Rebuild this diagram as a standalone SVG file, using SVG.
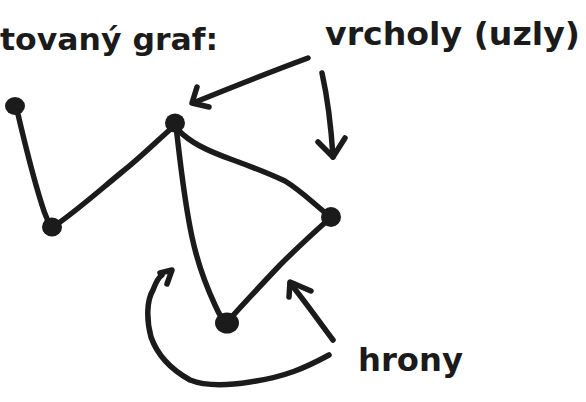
<svg xmlns="http://www.w3.org/2000/svg" width="586" height="402" viewBox="0 0 586 402">
  <style>
    .ink { fill: none; stroke: #1b1b1b; stroke-width: 5.5; stroke-linecap: round; stroke-linejoin: round; }
    .dot { fill: #1b1b1b; }
    .hand { font-family: "DejaVu Sans", "Liberation Sans", sans-serif; fill: #1b1b1b; font-weight: bold; }
  </style>
  <rect width="586" height="402" fill="#ffffff"/>

  <!-- labels -->
  <g id="title">
    <text class="hand" x="0" y="50" font-size="30" textLength="218" lengthAdjust="spacingAndGlyphs">tovaný graf:</text>
  </g>
  <g id="label-vrcholy">
    <text class="hand" x="325" y="45" font-size="32" textLength="255" lengthAdjust="spacingAndGlyphs">vrcholy (uzly)</text>
  </g>
  <g id="label-hrany">
    <text class="hand" x="358" y="371" font-size="32" textLength="105" lengthAdjust="spacingAndGlyphs">hrony</text>
  </g>

  <!-- edges of the graph -->
  <g id="edges">
    <path class="ink" d="M17,110 C24,140 34,180 42,205 C45,215 48,222 52,227"/>
    <path class="ink" d="M56,225 C80,208 100,190 122,172 C140,158 158,140 174,126"/>
    <path class="ink" d="M176,126 C180,160 184,200 192,237 C198,265 208,290 215,305 C219,314 222,320 226,323"/>
    <path class="ink" d="M178,130 C190,142 205,150 233,160 C255,168 270,174 285,181 C300,190 312,202 328,215"/>
    <path class="ink" d="M329,219 C310,236 295,250 280,265 C262,284 245,302 229,320"/>
  </g>

  <!-- annotation arrows -->
  <g id="arrows">
    <path class="ink" d="M308,58 C270,72 230,88 193,103"/>
    <path class="ink" d="M197,87 L192,103 L209,107"/>
    <path class="ink" d="M322,73 C328,100 331,125 333,157"/>
    <path class="ink" d="M318,142 L333,157 L345,138"/>
    <path class="ink" d="M333,340 C318,320 304,300 290,283"/>
    <path class="ink" d="M289,297 L290,282 L311,291"/>
    <path class="ink" d="M329,355 C305,368 285,377 250,382 C225,386 205,386 190,380 C172,370 158,357 151,337 C146,318 147,300 153,290 C156,282 159,277 162,275"/>
    <path class="ink" d="M160,273 L172,270 L167,284"/>
  </g>

  <!-- vertices -->
  <g id="node-a"><ellipse class="dot" cx="15" cy="106" rx="10" ry="9"/></g>
  <g id="node-b"><ellipse class="dot" cx="175" cy="123" rx="10" ry="9.5"/></g>
  <g id="node-c"><ellipse class="dot" cx="52" cy="227" rx="10" ry="9.5"/></g>
  <g id="node-d"><ellipse class="dot" cx="331" cy="217" rx="10" ry="10"/></g>
  <g id="node-e"><ellipse class="dot" cx="227" cy="323" rx="12" ry="10.5"/></g>
</svg>
